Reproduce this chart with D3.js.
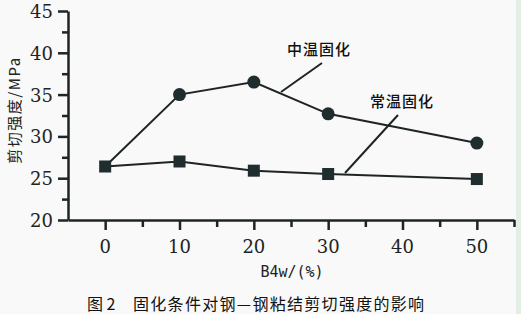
<!DOCTYPE html>
<html>
<head>
<meta charset="utf-8">
<script src="https://cdn.jsdelivr.net/npm/d3@7"></script>
<style>
  body { margin: 0; background: #f8f9f8; }
  svg { display: block; }
</style>
</head>
<body>
<div class="chart"></div>
<script>
var svgWidth = 521;
var svgHeight = 314;

// data
var xValues = [0, 10, 20, 30, 50];
var midTemp = [26.4, 35.0, 36.5, 32.7, 29.2];   // 中温固化 (circles)
var roomTemp = [26.4, 27.0, 25.9, 25.5, 24.9];  // 常温固化 (squares)
var xTicks = [0, 10, 20, 30, 40, 50];
var yTicks = [20, 25, 30, 35, 40, 45];

var svg = d3.select(".chart")
  .append("svg")
  .attr("width", svgWidth)
  .attr("height", svgHeight);

svg.append("rect")
  .attr("width", svgWidth)
  .attr("height", svgHeight)
  .attr("fill", "#f8f9f8");

// greenish strip at the right edge of the scan
svg.append("rect")
  .attr("x", 516)
  .attr("width", 5)
  .attr("height", svgHeight)
  .attr("fill", "#e3efe4");

var xScale = d3.scaleLinear().domain([-5, 55]).range([68, 514]);
var yScale = d3.scaleLinear().domain([20, 45]).range([220, 11]);

var ink = "#1e2424";

// Y axis
var yAxis = d3.axisLeft(yScale)
  .tickValues(d3.range(20, 45.1, 2.5))
  .tickSize(0)
  .tickFormat("");
var gy = svg.append("g")
  .attr("transform", `translate(${xScale(-5)},0)`)
  .call(yAxis);
gy.select(".domain").attr("stroke", ink).attr("stroke-width", 2.5);
gy.selectAll(".tick line")
  .attr("stroke", ink)
  .attr("stroke-width", 2.5)
  .attr("x2", d => (d % 5 === 0 ? -10 : -6));

svg.selectAll(".ylab")
  .data(yTicks)
  .enter()
  .append("text")
  .attr("class", "ylab")
  .attr("x", 53)
  .attr("y", d => yScale(d) + 7)
  .attr("text-anchor", "end")
  .style("font-family", "'DejaVu Serif'")
  .style("font-size", "18px")
  .attr("fill", ink)
  .text(d => d);

// X axis
var xAxis = d3.axisBottom(xScale)
  .tickValues(d3.range(-5, 55.1, 5))
  .tickSize(0)
  .tickFormat("");
var gx = svg.append("g")
  .attr("transform", `translate(0,${yScale(20)})`)
  .call(xAxis);
gx.select(".domain").attr("stroke", ink).attr("stroke-width", 2.5);
gx.selectAll(".tick line")
  .attr("stroke", ink)
  .attr("stroke-width", 2.5)
  .attr("y2", d => (d === -5 ? 0 : (d % 10 === 0 ? 10 : 7)));

svg.selectAll(".xlab")
  .data(xTicks)
  .enter()
  .append("text")
  .attr("class", "xlab")
  .attr("x", d => xScale(d))
  .attr("y", 253)
  .attr("text-anchor", "middle")
  .style("font-family", "'DejaVu Serif'")
  .style("font-size", "18px")
  .attr("fill", ink)
  .text(d => d);

// lines
var line = d3.line()
  .x((d, i) => xScale(xValues[i]))
  .y(d => yScale(d));

svg.append("path")
  .attr("d", line(roomTemp))
  .attr("fill", "none")
  .attr("stroke", ink)
  .attr("stroke-width", 2);

svg.append("path")
  .attr("d", line(midTemp))
  .attr("fill", "none")
  .attr("stroke", ink)
  .attr("stroke-width", 2);

svg.selectAll(".sq")
  .data(roomTemp)
  .enter()
  .append("rect")
  .attr("class", "sq")
  .attr("x", (d, i) => xScale(xValues[i]) - 6)
  .attr("y", d => yScale(d) - 6)
  .attr("width", 12)
  .attr("height", 12)
  .attr("fill", "#1f2d2f");

svg.selectAll(".dot")
  .data(midTemp.slice(1))
  .enter()
  .append("circle")
  .attr("class", "dot")
  .attr("cx", (d, i) => xScale(xValues[i + 1]))
  .attr("cy", d => yScale(d))
  .attr("r", 6.5)
  .attr("fill", "#1f2d2f");

// annotation leaders
svg.append("line")
  .attr("x1", 322).attr("y1", 63)
  .attr("x2", 281).attr("y2", 92)
  .attr("stroke", ink).attr("stroke-width", 2);
svg.append("line")
  .attr("x1", 398).attr("y1", 115)
  .attr("x2", 345).attr("y2", 173)
  .attr("stroke", ink).attr("stroke-width", 2);

svg.append("text")
  .attr("x", 319).attr("y", 55)
  .attr("text-anchor", "middle")
  .style("font-family", "'Noto Sans CJK SC'")
  .style("font-size", "15px")
  .attr("letter-spacing", 1)
  .attr("font-weight", 500)
  .attr("fill", "#111")
  .text("中温固化");

svg.append("text")
  .attr("x", 402).attr("y", 107)
  .attr("text-anchor", "middle")
  .style("font-family", "'Noto Sans CJK SC'")
  .style("font-size", "15px")
  .attr("letter-spacing", 1)
  .attr("font-weight", 500)
  .attr("fill", "#111")
  .text("常温固化");

// axis titles
svg.append("text")
  .attr("transform", "translate(20,110) rotate(-90)")
  .attr("text-anchor", "middle")
  .style("font-family", "'Noto Sans CJK SC'")
  .style("font-size", "15px")
  .attr("letter-spacing", 1.5)
  .attr("fill", "#222")
  .text("剪切强度/MPa");

svg.append("text")
  .attr("x", 292).attr("y", 277)
  .attr("text-anchor", "middle")
  .style("font-family", "'DejaVu Sans Mono'")
  .style("font-size", "15px")
  .attr("fill", "#222")
  .text("B4w/(%)");

// caption
svg.append("text")
  .attr("x", 87).attr("y", 310)
  .style("font-family", "'Noto Sans CJK SC'")
  .style("font-size", "16px")
  .attr("fill", "#111")
  .text("图 2");

svg.append("text")
  .attr("x", 133).attr("y", 310)
  .style("font-family", "'Noto Sans CJK SC'")
  .style("font-size", "16px")
  .attr("letter-spacing", 1.3)
  .attr("fill", "#111")
  .text("固化条件对钢—钢粘结剪切强度的影响");
</script>
</body>
</html>
